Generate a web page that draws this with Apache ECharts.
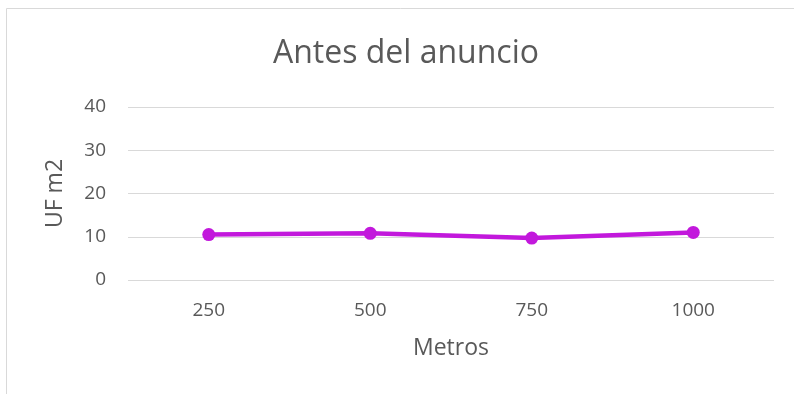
<!DOCTYPE html>
<html>
<head>
<meta charset="UTF-8">
<title>Antes del anuncio</title>
<script src="https://cdn.jsdelivr.net/npm/echarts@6/dist/echarts.min.js"></script>
<style>
  html, body { margin: 0; padding: 0; background: #fff; }
  #main { width: 794px; height: 394px; }
</style>
</head>
<body>
<div id="main"></div>
<script>
// datos
var metros = ['250', '500', '750', '1000'];
var ufM2 = [10.5, 10.8, 9.7, 11.0];
var yTicks = [0, 10, 20, 30, 40];

var chart = echarts.init(document.getElementById('main'));
chart.setOption({
  animation: false,
  textStyle: { fontFamily: 'Open Sans, Calibri, sans-serif' },
  graphic: [{
    type: 'rect',
    shape: { x: 6.5, y: 8.5, width: 800, height: 400 },
    style: { fill: 'none', stroke: '#d9d9d9', lineWidth: 1 },
    silent: true
  }],
  title: {
    text: 'Antes del anuncio',
    left: 401, top: 33, textAlign: 'center',
    textStyle: { fontSize: 32, fontWeight: 'normal', color: '#595959' }
  },
  grid: { left: 128, right: 20, top: 107, bottom: 114 },
  xAxis: {
    type: 'category',
    data: metros,
    name: 'Metros',
    nameLocation: 'middle',
    nameGap: 57,
    nameTextStyle: { fontSize: 23, color: '#595959' },
    axisLine: { show: false },
    axisTick: { show: false },
    axisLabel: { fontSize: 19, color: '#595959', margin: 21 }
  },
  yAxis: {
    type: 'value',
    min: yTicks[0], max: yTicks[yTicks.length - 1], interval: 10,
    name: 'UF m2',
    nameLocation: 'middle',
    nameGap: 61,
    nameRotate: 90,
    nameTextStyle: { fontSize: 23, color: '#595959' },
    axisLabel: { fontSize: 19, color: '#595959', margin: 22 },
    splitLine: { lineStyle: { color: '#d9d9d9', width: 1 } }
  },
  series: [{
    type: 'line',
    data: ufM2,
    symbol: 'circle',
    symbolSize: 13,
    itemStyle: { color: '#c218dc' },
    lineStyle: { color: '#c218dc', width: 4.5 }
  }]
});
</script>
</body>
</html>
